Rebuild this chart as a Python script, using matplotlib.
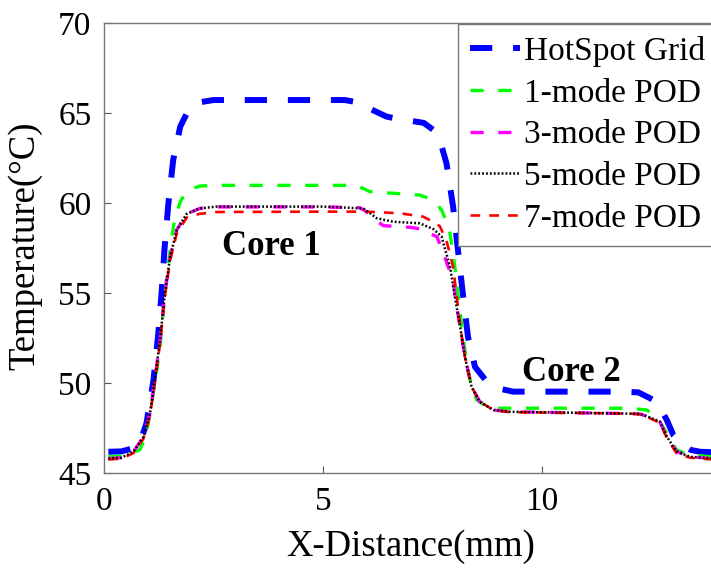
import matplotlib
matplotlib.use("Agg")
import matplotlib.pyplot as plt

plt.rcParams['font.family'] = ['Liberation Serif', 'DejaVu Serif']
plt.rcParams['lines.scale_dashes'] = False

# ---- data ----
hs_x = [0.1, 0.4, 0.7, 0.85, 0.97, 1.13, 1.24, 1.32, 1.38, 1.47, 1.58, 1.74, 1.93, 2.2, 2.5,
        4.0, 5.5, 5.84, 6.1, 6.45, 6.76, 7.05, 7.3, 7.52, 7.68, 7.82, 7.97, 8.09, 8.2, 8.31,
        8.47, 8.74, 9.0, 9.34, 11.0, 11.8, 12.2, 12.47, 12.62, 12.85, 13.0, 13.2, 13.4, 13.61, 13.9]
hs_y = [46.18, 46.2, 46.4, 46.9, 47.76, 50.17, 52.76, 55.17, 57.39, 59.98, 62.39, 64.24, 65.17, 65.6, 65.72,
        65.72, 65.72, 65.57, 65.2, 64.8, 64.65, 64.55, 64.45, 64.06, 63.4, 62.2, 59.8, 57.2, 54.8, 52.57,
        50.9, 50.07, 49.7, 49.52, 49.52, 49.52, 49.48, 49.15, 48.96, 47.94, 47.1, 46.6, 46.28, 46.18, 46.15]

m1_x = [0.1, 0.5, 0.82, 0.95, 1.05, 1.17, 1.28, 1.39, 1.51, 1.62, 1.75, 1.85, 2.0, 2.19, 2.57,
        5.0, 5.77, 6.07, 6.6, 7.21, 7.52, 7.71, 7.86, 7.9, 8.01, 8.09, 8.17, 8.28, 8.4, 8.51,
        8.7, 8.89, 9.25, 12.0, 12.39, 12.62, 12.85, 13.07, 13.38, 13.9]
m1_y = [45.9, 45.95, 46.3, 47.0, 48.3, 50.1, 52.0, 55.0, 57.4, 59.24, 60.1, 60.54, 60.8, 60.94, 60.98,
        60.98, 60.98, 60.63, 60.54, 60.44, 60.17, 59.6, 58.7, 58.3, 56.46, 54.8, 53.13, 51.1, 49.7, 49.06,
        48.75, 48.6, 48.6, 48.6, 48.5, 48.13, 47.2, 46.28, 46.0, 45.9]

m3_x = [0.1, 0.4, 0.67, 0.9, 1.05, 1.16, 1.28, 1.39, 1.51, 1.66, 1.89, 2.19, 2.57,
        5.0, 5.84, 6.0, 6.19, 6.38, 6.99, 7.37, 7.44, 7.6, 7.75, 7.97, 8.05, 8.13, 8.24, 8.39,
        8.58, 8.89, 9.27, 12.0, 12.24, 12.45, 12.69, 12.85, 13.07, 13.38, 13.9]
m3_y = [45.8, 45.85, 46.18, 47.0, 48.3, 50.17, 52.4, 55.0, 57.0, 58.5, 59.4, 59.7, 59.78,
        59.78, 59.74, 59.5, 59.05, 58.74, 58.65, 58.5, 58.3, 58.13, 57.2, 55.7, 54.3, 53.1, 51.46, 49.8,
        48.96, 48.5, 48.4, 48.3, 48.28, 48.1, 47.85, 47.02, 46.2, 45.9, 45.8]

m5_x = [0.1, 0.4, 0.67, 0.9, 1.05, 1.16, 1.28, 1.39, 1.51, 1.66, 1.89, 2.19, 2.57,
        5.0, 5.92, 6.23, 6.6, 7.21, 7.52, 7.71, 7.75, 7.9, 8.01, 8.13, 8.24, 8.39,
        8.58, 8.89, 9.27, 12.0, 12.24, 12.45, 12.69, 12.85, 13.07, 13.38, 13.9]
m5_y = [45.8, 45.85, 46.18, 47.0, 48.3, 50.17, 52.4, 55.0, 57.0, 58.5, 59.4, 59.7, 59.8,
        59.8, 59.7, 59.15, 58.96, 58.87, 58.55, 58.13, 57.76, 56.46, 54.8, 53.13, 51.46, 49.8,
        48.96, 48.5, 48.4, 48.3, 48.28, 48.1, 47.85, 47.02, 46.2, 45.9, 45.8]

m7_x = [0.1, 0.4, 0.67, 0.9, 1.05, 1.16, 1.28, 1.39, 1.51, 1.66, 1.89, 2.19, 2.57,
        5.0, 6.0, 6.76, 7.29, 7.58, 7.67, 7.82, 7.97, 8.05, 8.13, 8.24, 8.39,
        8.58, 8.89, 9.27, 12.0, 12.24, 12.45, 12.69, 12.85, 13.07, 13.38, 13.9]
m7_y = [45.75, 45.8, 46.1, 46.9, 48.2, 50.0, 52.2, 54.8, 56.8, 58.3, 59.2, 59.4, 59.5,
        59.52, 59.52, 59.43, 59.24, 58.87, 58.7, 57.9, 56.46, 54.9, 53.2, 51.46, 49.8,
        48.96, 48.5, 48.38, 48.3, 48.26, 48.05, 47.8, 46.95, 46.1, 45.85, 45.75]

labels = ['HotSpot Grid', '1-mode POD', '3-mode POD', '5-mode POD', '7-mode POD']
core_labels = ['Core 1', 'Core 2']
core_pos_x = [3.81, 10.68]
core_pos_y = [57.6, 50.6]
x_ticks = [0, 5, 10]
y_ticks = [45, 50, 55, 60, 65, 70]

# ---- figure ----
fig = plt.figure(figsize=(7.11, 5.72), dpi=100)
ax = fig.add_axes([104/711, 1 - 473/572, 613.2/711, 450/572])

l_hs, = ax.plot(hs_x, hs_y, color='#0000ff', lw=4.3, linestyle=(0, (16, 15)), label=labels[0])
l_1, = ax.plot(m1_x, m1_y, color='#00ff00', lw=2.4, linestyle=(0, (9.5, 10.5)), label=labels[1])
l_3, = ax.plot(m3_x, m3_y, color='#ff00ff', lw=2.4, linestyle=(0, (9.5, 10.5)), label=labels[2])
l_7, = ax.plot(m7_x, m7_y, color='#ff0000', lw=1.9, linestyle=(0, (7, 6.5)), label=labels[4])
l_5, = ax.plot(m5_x, m5_y, color='black', lw=1.8, linestyle=(0, (1.3, 1.5)), label=labels[3])

ax.set_xlim(0, 14)
ax.set_ylim(45, 70)
ax.set_xticks(x_ticks)
ax.set_yticks(y_ticks)
ax.tick_params(direction='in', length=5, width=0.8, color='#555555', labelsize=24)
ax.tick_params(axis='x', pad=10)
ax.tick_params(axis='y', pad=9)
for s in ax.spines.values():
    s.set_color('#777777')
    s.set_linewidth(1.0)

ax.set_xlabel('X-Distance(mm)', fontsize=26.5)
ax.set_ylabel('Temperature(°C)', fontsize=26.5)
ax.xaxis.set_label_coords(0.5, -0.125)
ax.yaxis.set_label_coords(-0.101, 0.506)

for t, xx, yy in zip(core_labels, core_pos_x, core_pos_y):
    ax.text(xx, yy, t, fontsize=25, fontweight='bold', ha='center', va='center')

leg = ax.legend(handles=[l_hs, l_1, l_3, l_5, l_7], loc='upper left',
                bbox_to_anchor=(458/711, 1 - 24/572), bbox_transform=fig.transFigure,
                fontsize=24, frameon=True, fancybox=False, borderaxespad=0,
                borderpad=0.35, labelspacing=0.34, handlelength=1.5, handletextpad=0.12)
leg.get_frame().set_edgecolor('#777777')
leg.get_frame().set_linewidth(1.0)
leg.get_frame().set_alpha(1)

fig.savefig('out.png', dpi=100)
